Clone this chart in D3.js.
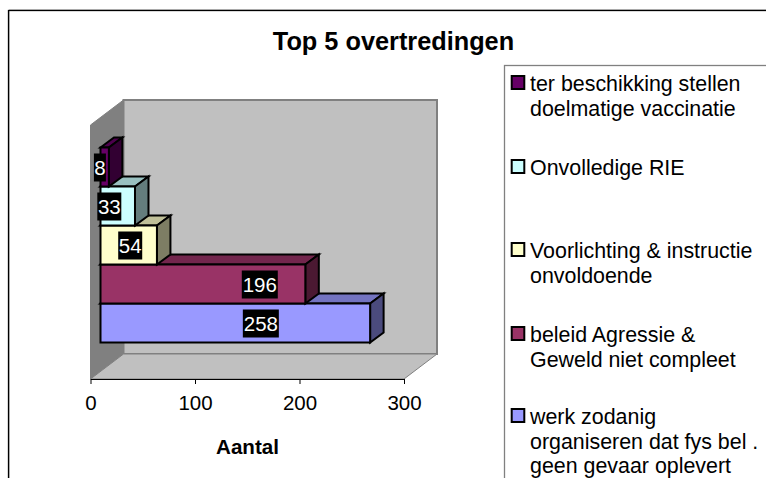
<!DOCTYPE html>
<html>
<head>
<meta charset="utf-8">
<script src="https://cdn.jsdelivr.net/npm/d3@7"></script>
<style>
  html, body { margin: 0; padding: 0; background: #fff; overflow: hidden; }
  svg { display: block; font-family: "Liberation Sans", Arial, sans-serif; }
</style>
</head>
<body>
<div id="chart"></div>
<script>
// bottom bar first, same order as the categories below
var categories = [
  "werk zodanig organiseren",
  "beleid Agressie",
  "Voorlichting",
  "Onvolledige RIE",
  "vaccinatie"
];
var values = [258, 196, 54, 33, 8];
var fills = ["#9999FF", "#993366", "#FFFFCC", "#CCFFFF", "#660066"];
var xTicks = [0, 100, 200, 300];

// legend reads top to bottom
var legendLines = [
  ["ter beschikking stellen", "doelmatige vaccinatie"],
  ["Onvolledige RIE"],
  ["Voorlichting & instructie", "onvoldoende"],
  ["beleid Agressie &", "Geweld niet compleet"],
  ["werk zodanig", "organiseren dat fys bel .", "geen gevaar oplevert"]
];
var legendFills = ["#660066", "#CCFFFF", "#FFFFCC", "#993366", "#9999FF"];
var legendTops = [84, 168, 251, 335, 417];

// where the data labels sit, in axis units (excel puts them oddly)
var labelAt = [163, 162, 38, 18, 9];

var W = 766, H = 478;
var svg = d3.select("#chart").append("svg").attr("width", W).attr("height", H);

var x = d3.scaleLinear().domain([0, 300]).range([90.5, 404]);
var y = d3.scaleBand().domain(categories).range([342.5, 147.5]);

// wall depth and bar depth of the fake 3d
var wallDx = 33, wallDy = -25;
var barDx = 13.5, barDy = -10;
var barInset = 10;
var floorY = 379, wallTop = 125;

function poly(pts) { return pts.map(function (p) { return p.join(","); }).join(" "); }

// --- outer frame: runs off the right and bottom of the picture -------
svg.append("rect").attr("x", 9.5).attr("y", 9.5).attr("width", 800).attr("height", 500)
  .attr("fill", "none").attr("stroke", "#c8c8c8").attr("stroke-width", 1);
svg.append("rect").attr("x", 8.5).attr("y", 10.5).attr("width", 800).attr("height", 500)
  .attr("fill", "none").attr("stroke", "#000").attr("stroke-width", 1.3);

svg.append("text").attr("x", 393.5).attr("y", 50).attr("text-anchor", "middle")
  .style("font-size", "25.3px").style("font-weight", "700").text("Top 5 overtredingen");

// --- walls ---------------------------------------------------------
var xL = x(0), xR = x(300);
svg.append("polygon")
  .attr("points", poly([[xL + wallDx, wallTop + wallDy], [xR + wallDx, wallTop + wallDy], [xR + wallDx, floorY + wallDy], [xL + wallDx, floorY + wallDy]]))
  .attr("fill", "#C0C0C0").attr("stroke", "#808080").attr("stroke-width", 2);
svg.append("polygon")
  .attr("points", poly([[xL, wallTop], [xL + wallDx, wallTop + wallDy], [xL + wallDx, floorY + wallDy], [xL, floorY]]))
  .attr("fill", "#808080").attr("stroke", "#808080").attr("stroke-width", 1);
svg.append("polygon")
  .attr("points", poly([[xL, floorY], [xL + wallDx, floorY + wallDy], [xR + wallDx, floorY + wallDy], [xR, floorY]]))
  .attr("fill", "#C0C0C0").attr("stroke", "#808080").attr("stroke-width", 1);

// --- bars: bottom one first, each upper bar sits over the top face below it
var bars = svg.append("g").selectAll("g").data(d3.range(values.length)).enter().append("g")
  .attr("stroke", "#000").attr("stroke-width", 2).attr("stroke-linejoin", "miter");

function barBox(i) {
  var top = y(categories[i]);
  return { x0: x(0) + barInset, x1: x(values[i]) + barInset, y0: top, y1: top + y.bandwidth() };
}
bars.append("polygon") // top face
  .attr("fill", function (i) { return d3.rgb(fills[i]).darker(0.8); })
  .attr("points", function (i) {
    var b = barBox(i);
    return poly([[b.x0, b.y0], [b.x0 + barDx, b.y0 + barDy], [b.x1 + barDx, b.y0 + barDy], [b.x1, b.y0]]);
  });
bars.append("polygon") // side face
  .attr("fill", function (i) { return d3.rgb(fills[i]).darker(2); })
  .attr("points", function (i) {
    var b = barBox(i);
    return poly([[b.x1, b.y0], [b.x1 + barDx, b.y0 + barDy], [b.x1 + barDx, b.y1 + barDy], [b.x1, b.y1]]);
  });
bars.append("rect") // front face
  .attr("fill", function (i) { return fills[i]; })
  .attr("x", function (i) { return barBox(i).x0; })
  .attr("y", function (i) { return barBox(i).y0; })
  .attr("width", function (i) { return barBox(i).x1 - barBox(i).x0; })
  .attr("height", y.bandwidth());

// --- data labels: white on black -------------------------------------
var labels = svg.append("g").selectAll("g").data(d3.range(values.length)).enter().append("g")
  .attr("transform", function (i) {
    return "translate(" + x(labelAt[i]) + "," + (y(categories[i]) + y.bandwidth() / 2 + 0.5) + ")";
  });
labels.append("rect")
  .attr("x", function (i) { return -String(values[i]).length * 6; })
  .attr("width", function (i) { return String(values[i]).length * 12; })
  .attr("y", -14).attr("height", 28).attr("fill", "#000");
labels.append("text").attr("text-anchor", "middle").attr("y", 7)
  .attr("fill", "#fff").style("font-size", "20.5px")
  .text(function (i) { return values[i]; });

// --- x axis ----------------------------------------------------------
var axis = svg.append("g").attr("transform", "translate(0," + floorY + ")")
  .call(d3.axisBottom(x).tickValues(xTicks).tickSize(5).tickSizeOuter(0).tickPadding(11));
axis.selectAll("path,line").attr("stroke", "#000");
axis.selectAll("text").attr("fill", "#000").style("font-size", "20.5px")
  .style("font-family", '"Liberation Sans", Arial, sans-serif');

svg.append("text").attr("x", 247.5).attr("y", 454).attr("text-anchor", "middle")
  .style("font-size", "20.6px").style("font-weight", "700").text("Aantal");

// --- legend ----------------------------------------------------------
svg.append("rect").attr("x", 504.5).attr("y", 65.5).attr("width", 300).attr("height", 500)
  .attr("fill", "#fff").attr("stroke", "#808080").attr("stroke-width", 1.3);

var items = svg.append("g").selectAll("g").data(legendLines).enter().append("g")
  .attr("transform", function (d, i) { return "translate(0," + legendTops[i] + ")"; });
items.append("rect")
  .attr("x", 511.7).attr("y", -8).attr("width", 12.6).attr("height", 13)
  .attr("fill", function (d, i) { return legendFills[i]; })
  .attr("stroke", "#000").attr("stroke-width", 2);
items.selectAll("text").data(function (d) { return d; }).enter().append("text")
  .attr("x", 530).attr("y", function (d, j) { return 7 + j * 24.7; })
  .style("font-size", "21.4px").text(function (d) { return d; });
</script>
</body>
</html>
